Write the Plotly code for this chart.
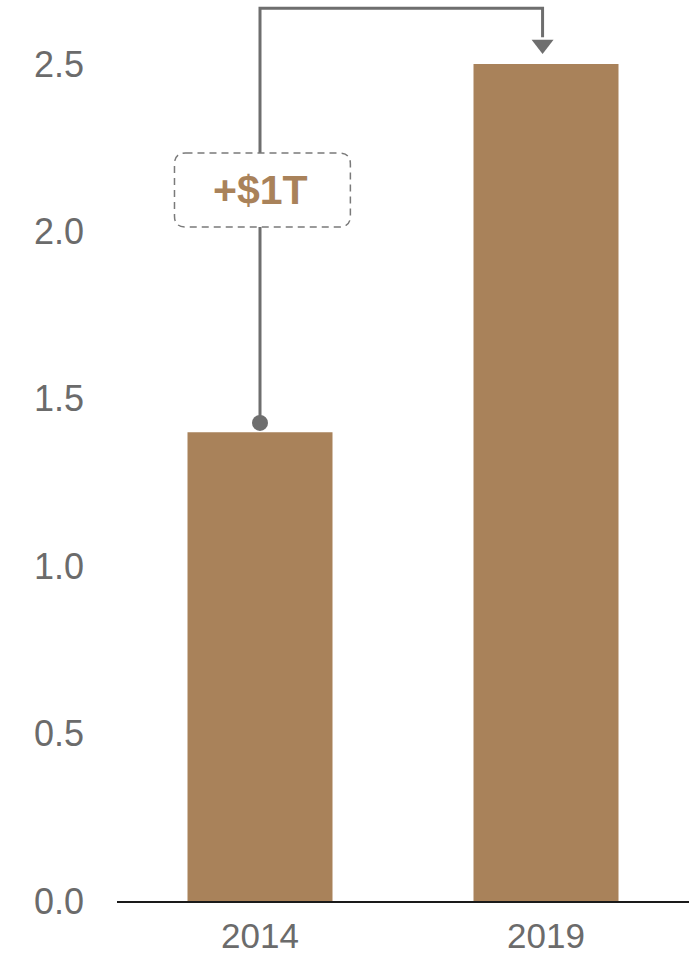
import plotly.graph_objects as go

categories = ["2014", "2019"]
values = [1.4, 2.5]
change_label = "+$1T"
y_tick_vals = [0.0, 0.5, 1.0, 1.5, 2.0, 2.5]

BAR = "#A9825A"
GRAY = "#6E6E6E"
TICK = "#6B6B6B"
FONT = "Liberation Sans, Arial, sans-serif"

Y_MAX = 2.691
X_MIN, X_MAX = -0.5, 1.5

fig = go.Figure()
fig.add_trace(go.Bar(x=[0, 1], y=values, width=0.507, marker=dict(color=BAR, line=dict(width=0)),
                     hoverinfo="skip"))

# connector line from 2014 bar to 2019 bar
start_y = values[0] + 0.028
top_y = max(values) + 0.166
x_end = 1 - 0.012
arrow_base = max(values) + 0.08
fig.add_trace(go.Scatter(x=[0, 0, x_end, x_end], y=[start_y, top_y, top_y, arrow_base],
                         mode="lines", line=dict(color=GRAY, width=3), cliponaxis=False,
                         hoverinfo="skip"))
fig.add_trace(go.Scatter(x=[0], y=[start_y], mode="markers",
                         marker=dict(symbol="circle", size=16, color=GRAY), cliponaxis=False,
                         hoverinfo="skip"))
fig.add_trace(go.Scatter(x=[x_end], y=[max(values) + 0.058], mode="markers",
                         marker=dict(symbol="triangle-down", size=19, color=GRAY), cliponaxis=False,
                         hoverinfo="skip"))

# rounded dashed label box (paper coords)
def px(x):
    return (x - X_MIN) / (X_MAX - X_MIN)
def py(y):
    return y / Y_MAX

x0, x1 = px(-0.299), px(0.316)
y0, y1 = py(2.013), py(2.234)
rx = 11 / 572
ry = 11 / 901
path = (f"M{x0+rx},{y1} L{x1-rx},{y1} Q{x1},{y1} {x1},{y1-ry} "
        f"L{x1},{y0+ry} Q{x1},{y0} {x1-rx},{y0} "
        f"L{x0+rx},{y0} Q{x0},{y0} {x0},{y0+ry} "
        f"L{x0},{y1-ry} Q{x0},{y1} {x0+rx},{y1} Z")
fig.add_shape(type="path", path=path, xref="paper", yref="paper",
              fillcolor="white", line=dict(color="#7A7A7A", width=1.5, dash="7px,5px"),
              layer="above")
fig.add_annotation(x=0.0, y=2.124, xref="x", yref="y", text=f"<b>{change_label}</b>",
                   showarrow=False, font=dict(family=FONT, size=41, color=BAR))

fig.update_layout(
    width=695, height=954,
    margin=dict(l=117, r=6, t=0, b=53),
    plot_bgcolor="white", paper_bgcolor="white",
    showlegend=False,
    font=dict(family=FONT, color=TICK),
    xaxis=dict(range=[X_MIN, X_MAX], tickvals=[0, 1], ticktext=categories,
               showgrid=False, zeroline=False, showline=True, linecolor="#1a1a1a", linewidth=2,
               ticks="", tickfont=dict(size=35, color=TICK), ticklabelstandoff=3,
               automargin=False, fixedrange=True),
    yaxis=dict(range=[0, Y_MAX], tickvals=y_tick_vals, ticktext=[f"{v:.1f}" for v in y_tick_vals],
               showgrid=False, zeroline=False, showline=False, ticks="",
               tickfont=dict(size=36, color=TICK), ticklabelstandoff=32,
               automargin=False, fixedrange=True),
)

fig.write_html("out.html")
